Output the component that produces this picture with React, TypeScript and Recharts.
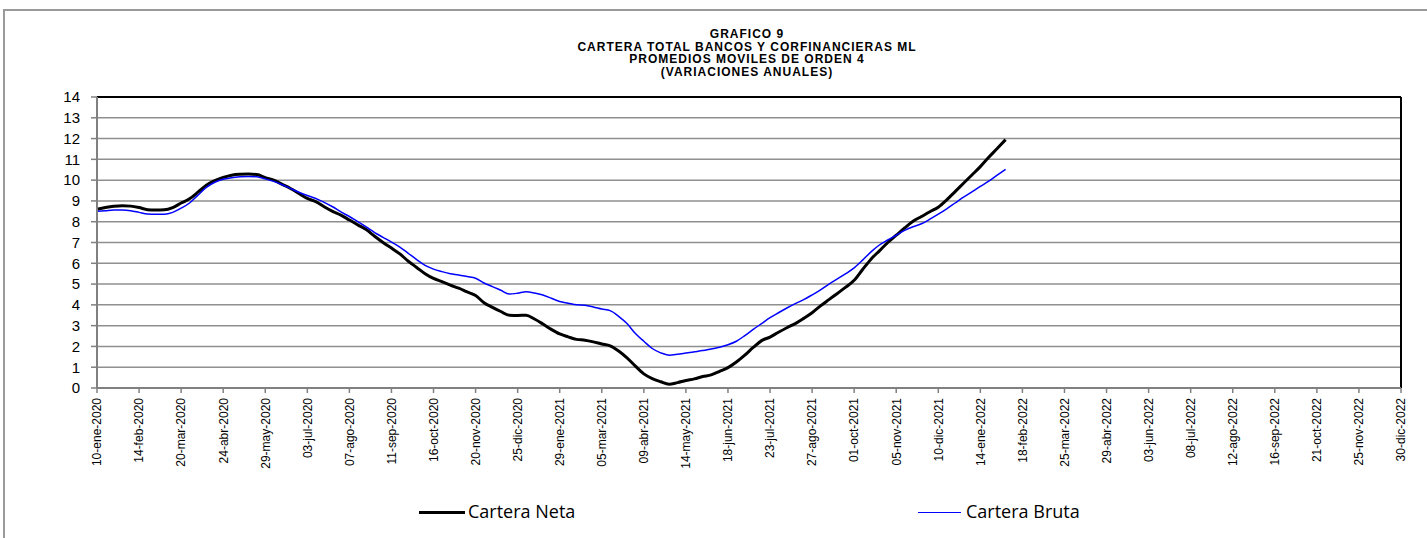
import { CartesianGrid, Line, LineChart, ReferenceLine, XAxis, YAxis } from "recharts";

// semanas desde 10-ene-2020 hasta 30-dic-2022
const meses = ["ene", "feb", "mar", "abr", "may", "jun", "jul", "ago", "sep", "oct", "nov", "dic"];
const totalSemanas = 156;
const fechas: string[] = [];
for (let i = 0; i < totalSemanas; i++) {
  const d = new Date(Date.UTC(2020, 0, 10) + i * 7 * 86400000);
  fechas.push(`${String(d.getUTCDate()).padStart(2, "0")}-${meses[d.getUTCMonth()]}-${d.getUTCFullYear()}`);
}

const etiquetasEje = [
  "10-ene-2020", "14-feb-2020", "20-mar-2020", "24-abr-2020", "29-may-2020", "03-jul-2020",
  "07-ago-2020", "11-sep-2020", "16-oct-2020", "20-nov-2020", "25-dic-2020", "29-ene-2021",
  "05-mar-2021", "09-abr-2021", "14-may-2021", "18-jun-2021", "23-jul-2021", "27-ago-2021",
  "01-oct-2021", "05-nov-2021", "10-dic-2021", "14-ene-2022", "18-feb-2022", "25-mar-2022",
  "29-abr-2022", "03-jun-2022", "08-jul-2022", "12-ago-2022", "16-sep-2022", "21-oct-2022",
  "25-nov-2022", "30-dic-2022",
];

const carteraNeta = [
  8.6, 8.68, 8.74, 8.77, 8.75, 8.68, 8.58, 8.56, 8.57, 8.68,
  8.9, 9.1, 9.42, 9.76, 9.98, 10.13, 10.24, 10.28, 10.29, 10.27,
  10.12, 10.0, 9.8, 9.6, 9.36, 9.12, 8.97, 8.72, 8.5, 8.32,
  8.08, 7.85, 7.62, 7.3, 7.0, 6.73, 6.45, 6.1, 5.8, 5.5,
  5.27, 5.12, 4.95, 4.8, 4.62, 4.45, 4.1, 3.88, 3.68, 3.5,
  3.49, 3.5, 3.32, 3.08, 2.82, 2.6, 2.46, 2.34, 2.3, 2.22,
  2.12, 2.03, 1.78, 1.45, 1.05, 0.68, 0.45, 0.3, 0.18, 0.26,
  0.36, 0.44, 0.55, 0.63, 0.8, 0.98, 1.25, 1.58, 1.95, 2.28,
  2.45, 2.68, 2.9, 3.1, 3.35, 3.62, 3.95, 4.25, 4.55, 4.85,
  5.18, 5.7, 6.2, 6.6, 7.0, 7.35, 7.7, 8.02, 8.25, 8.48,
  8.7, 9.05, 9.45, 9.85, 10.25, 10.65, 11.1, 11.52, 11.95,
];

const carteraBruta = [
  8.5, 8.53, 8.56, 8.56, 8.53, 8.45, 8.37, 8.36, 8.36, 8.45,
  8.65, 8.9, 9.28, 9.65, 9.9, 10.04, 10.12, 10.16, 10.18, 10.16,
  10.06, 9.94, 9.78, 9.6, 9.42, 9.26, 9.12, 8.93, 8.72, 8.47,
  8.25, 8.0, 7.75, 7.48, 7.25, 7.02, 6.78, 6.48, 6.18, 5.9,
  5.72, 5.6, 5.5, 5.44, 5.36, 5.28, 5.05, 4.88, 4.7, 4.52,
  4.56, 4.63, 4.57, 4.47, 4.32, 4.16, 4.08, 4.0, 3.98, 3.9,
  3.8, 3.72, 3.45, 3.1, 2.62, 2.25, 1.9, 1.69, 1.58, 1.62,
  1.68, 1.74, 1.8, 1.88, 1.96, 2.08, 2.25, 2.52, 2.82, 3.1,
  3.38, 3.62, 3.85, 4.06, 4.25, 4.48, 4.72, 5.0, 5.25, 5.5,
  5.78, 6.15, 6.55, 6.88, 7.12, 7.35, 7.58, 7.76, 7.9, 8.12,
  8.36, 8.62, 8.9, 9.18, 9.44, 9.7, 9.95, 10.24, 10.52,
];

const ticksY = [0, 1, 2, 3, 4, 5, 6, 7, 8, 9, 10, 11, 12, 13, 14];

const titulo = [
  "GRAFICO 9",
  "CARTERA TOTAL BANCOS Y CORFINANCIERAS ML",
  "PROMEDIOS MOVILES DE ORDEN 4",
  "(VARIACIONES ANUALES)",
];

const data = fechas.map((fecha, i) => ({
  fecha,
  neta: i < carteraNeta.length ? carteraNeta[i] : null,
  bruta: i < carteraBruta.length ? carteraBruta[i] : null,
}));

const arial = "'Liberation Sans', Arial, sans-serif";

function TickFecha(props: any) {
  const { x, y, payload } = props;
  const ty = y + 3;
  return (
    <text
      x={x}
      y={ty}
      transform={`rotate(-90, ${x}, ${ty})`}
      textAnchor="end"
      dy="0.36em"
      fontSize={12}
      fontFamily={arial}
      fill="#000"
    >
      {payload.value}
    </text>
  );
}

export default function App() {
  return (
    <div style={{ position: "absolute", left: 0, top: 0, width: 1427, height: 538, background: "#fff", overflow: "hidden" }}>
      <div
        style={{
          position: "absolute",
          left: 3,
          top: 9,
          width: 1440,
          height: 560,
          borderLeft: "2px solid #9a9a9a",
          borderTop: "2px solid #9a9a9a",
        }}
      />
      <div
        style={{
          position: "absolute",
          left: 447,
          top: 28,
          width: 600,
          textAlign: "center",
          fontFamily: arial,
          fontWeight: "bold",
          fontSize: 12,
          letterSpacing: 1,
          lineHeight: "12.6px",
          color: "#000",
        }}
      >
        {titulo.map((t) => (
          <div key={t}>{t}</div>
        ))}
      </div>
      <div style={{ position: "absolute", left: 0, top: 0 }}>
        <LineChart width={1427} height={538} data={data} margin={{ top: 97, right: 26, left: 37, bottom: 50 }}>
          <CartesianGrid vertical={false} stroke="#8f8f8f" strokeWidth={1.5} />
          <XAxis
            dataKey="fecha"
            ticks={etiquetasEje}
            interval={0}
            height={100}
            tick={<TickFecha />}
            tickSize={5}
            tickLine={{ stroke: "#808080", strokeWidth: 1.5 }}
            axisLine={{ stroke: "#808080", strokeWidth: 2 }}
          />
          <YAxis
            domain={[0, 14]}
            ticks={ticksY}
            interval={0}
            width={60}
            tickSize={6}
            tickMargin={11}
            tick={{ fontSize: 15, fill: "#000", fontFamily: arial }}
            tickLine={{ stroke: "#808080", strokeWidth: 1.5 }}
            axisLine={{ stroke: "#808080", strokeWidth: 2 }}
          />
          <ReferenceLine y={14} stroke="#000" strokeWidth={2} />
          <ReferenceLine x="30-dic-2022" stroke="#000" strokeWidth={2} />
          <Line
            type="monotone"
            dataKey="neta"
            name="Cartera Neta"
            stroke="#000"
            strokeWidth={3}
            dot={false}
            isAnimationActive={false}
          />
          <Line
            type="monotone"
            dataKey="bruta"
            name="Cartera Bruta"
            stroke="#0000ff"
            strokeWidth={1.5}
            dot={false}
            isAnimationActive={false}
          />
        </LineChart>
      </div>
      <div style={{ position: "absolute", left: 419, top: 511, width: 46, height: 3, background: "#000" }} />
      <div
        style={{ position: "absolute", left: 468, top: 499, fontFamily: "'Open Sans', sans-serif", fontSize: 18, lineHeight: "24px", color: "#000" }}
      >
        Cartera Neta
      </div>
      <div style={{ position: "absolute", left: 918, top: 511.5, width: 43, height: 1.5, background: "#0000ff" }} />
      <div
        style={{ position: "absolute", left: 966, top: 499, fontFamily: "'Open Sans', sans-serif", fontSize: 18, lineHeight: "24px", color: "#000" }}
      >
        Cartera Bruta
      </div>
    </div>
  );
}
